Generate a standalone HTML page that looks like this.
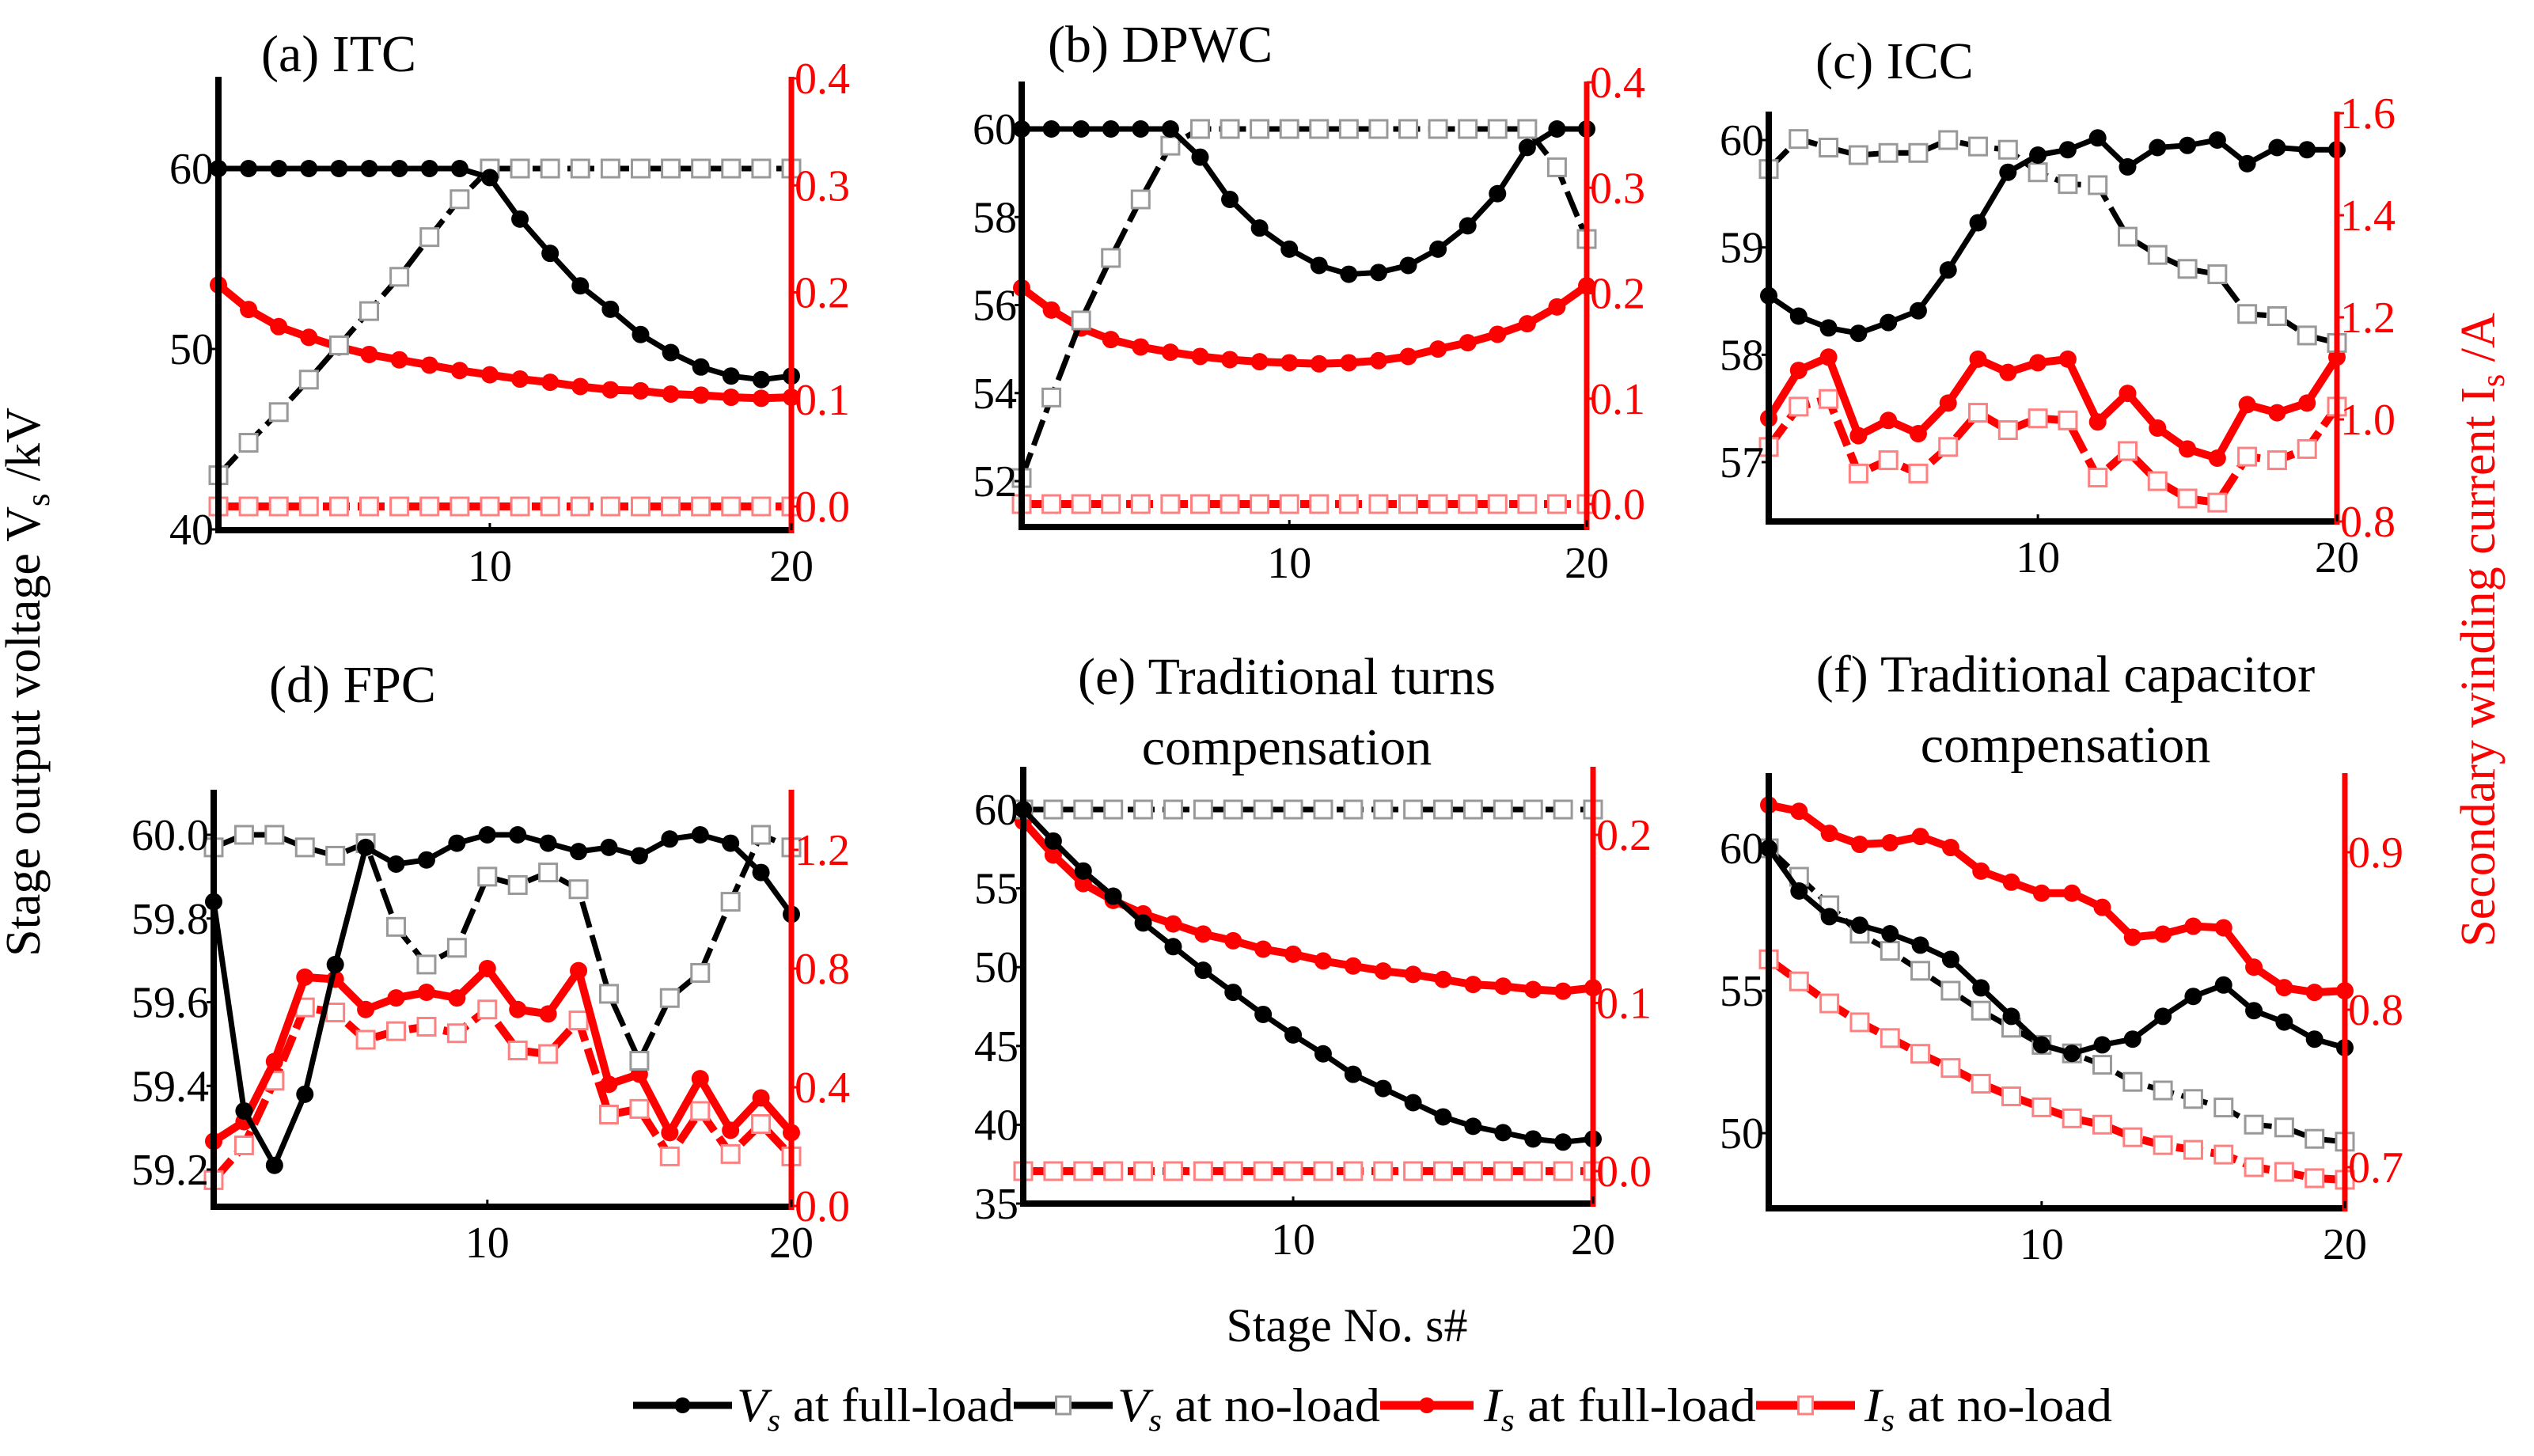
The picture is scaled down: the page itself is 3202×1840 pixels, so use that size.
<!DOCTYPE html>
<html><head><meta charset="utf-8">
<style>
html,body{margin:0;padding:0;background:#fff;}
svg, svg text{font-family:"Liberation Serif","DejaVu Serif",serif;}
</style></head>
<body>
<svg id="fig" width="3202" height="1835" viewBox="0 0 3202 1835" xmlns="http://www.w3.org/2000/svg" font-family="Liberation Serif, DejaVu Serif, serif">
<text x="50" y="862" font-size="62" text-anchor="middle" transform="rotate(-90 50 862)">Stage output voltage V<tspan font-size="42" dy="12">s</tspan><tspan dy="-12"> /kV</tspan></text>
<text x="3152" y="796" font-size="62" fill="#ff0000" text-anchor="middle" transform="rotate(-90 3152 796)">Secondary winding current I<tspan font-size="42" dy="12">s</tspan><tspan dy="-12"> /A</tspan></text>
<text x="1702" y="1695" font-size="60" text-anchor="middle">Stage No. s#</text>
<g id="legend"></g>
</svg>
<script>
// ---- data ----
const stages = [1,2,3,4,5,6,7,8,9,10,11,12,13,14,15,16,17,18,19,20];
const xTicks = [10,20];
const panelTitles = [["(a) ITC"],["(b) DPWC"],["(c) ICC"],["(d) FPC"],["(e) Traditional turns","compensation"],["(f) Traditional capacitor","compensation"]];
const leftTicksA = [40,50,60];
const leftTicksB = [52,54,56,58,60];
const leftTicksC = [57,58,59,60];
const leftTicksD = [59.2,59.4,59.6,59.8,60.0];
const leftTicksE = [35,40,45,50,55,60];
const leftTicksF = [50,55,60];
const rightTicksA = [0.0,0.1,0.2,0.3,0.4];
const rightTicksB = [0.0,0.1,0.2,0.3,0.4];
const rightTicksC = [0.8,1.0,1.2,1.4,1.6];
const rightTicksD = [0.0,0.4,0.8,1.2];
const rightTicksE = [0.0,0.1,0.2];
const rightTicksF = [0.7,0.8,0.9];

const vFullA = [60,60,60,60,60,60,60,60,60,59.5,57.2,55.3,53.5,52.2,50.8,49.8,49,48.5,48.3,48.5];
const vNoA   = [43.0,44.8,46.5,48.3,50.2,52.1,54.0,56.2,58.3,60,60,60,60,60,60,60,60,60,60,60];
const iFullA = [0.207,0.184,0.168,0.158,0.149,0.142,0.137,0.132,0.127,0.123,0.119,0.116,0.112,0.109,0.108,0.105,0.104,0.102,0.101,0.102];
const iNoA   = [0,0,0,0,0,0,0,0,0,0,0,0,0,0,0,0,0,0,0,0];

const vFullB = [60,60,60,60,60,60,59.36,58.4,57.75,57.27,56.9,56.7,56.74,56.9,57.27,57.8,58.53,59.58,60,60];
const vNoB   = [52.07,53.9,55.65,57.07,58.4,59.62,60,60,60,60,60,60,60,60,60,60,60,60,59.13,57.5];
const iFullB = [0.205,0.184,0.167,0.156,0.149,0.144,0.14,0.137,0.135,0.134,0.133,0.134,0.136,0.14,0.147,0.153,0.161,0.171,0.187,0.207];
const iNoB   = [0,0,0,0,0,0,0,0,0,0,0,0,0,0,0,0,0,0,0,0];

const vFullC = [58.55,58.36,58.25,58.2,58.3,58.41,58.79,59.23,59.7,59.86,59.91,60.02,59.75,59.93,59.95,60,59.78,59.93,59.91,59.91];
const vNoC   = [59.73,60.01,59.93,59.86,59.88,59.88,60,59.94,59.91,59.7,59.59,59.58,59.1,58.93,58.8,58.75,58.38,58.36,58.18,58.11];
const iFullC = [1.002,1.096,1.122,0.968,0.998,0.972,1.032,1.118,1.092,1.111,1.118,0.995,1.051,0.983,0.942,0.924,1.029,1.013,1.032,1.122];
const iNoC   = [0.946,1.025,1.04,0.894,0.92,0.894,0.946,1.013,0.979,1.002,0.998,0.886,0.938,0.879,0.845,0.837,0.927,0.92,0.942,1.025];

const vFullD = [59.84,59.34,59.21,59.38,59.69,59.97,59.93,59.94,59.98,60.0,60.0,59.98,59.96,59.97,59.95,59.99,60.0,59.98,59.91,59.81];
const vNoD   = [59.97,60.0,60.0,59.97,59.95,59.98,59.78,59.69,59.73,59.9,59.88,59.91,59.87,59.62,59.46,59.61,59.67,59.84,60.0,59.97];
const iFullD = [0.218,0.284,0.487,0.771,0.764,0.662,0.701,0.72,0.701,0.8,0.662,0.647,0.793,0.41,0.444,0.247,0.429,0.255,0.364,0.247];
const iNoD   = [0.087,0.204,0.422,0.669,0.652,0.56,0.589,0.604,0.582,0.662,0.524,0.512,0.625,0.308,0.327,0.167,0.32,0.175,0.276,0.167];

const vFullE = [60,58,56.1,54.5,52.8,51.3,49.8,48.4,47,45.7,44.5,43.2,42.3,41.4,40.5,39.9,39.5,39.1,38.9,39.1];
const vNoE   = [60,60,60,60,60,60,60,60,60,60,60,60,60,60,60,60,60,60,60,60];
const iFullE = [0.208,0.188,0.171,0.161,0.153,0.147,0.141,0.137,0.132,0.129,0.125,0.122,0.119,0.117,0.114,0.111,0.110,0.108,0.107,0.109];
const iNoE   = [0,0,0,0,0,0,0,0,0,0,0,0,0,0,0,0,0,0,0,0];

const vFullF = [60,58.5,57.6,57.3,57.0,56.6,56.1,55.1,54.1,53.1,52.8,53.1,53.3,54.1,54.8,55.2,54.3,53.9,53.3,53.0];
const vNoF   = [60,59.0,58.0,57.0,56.4,55.7,55.0,54.3,53.7,53.1,52.8,52.4,51.8,51.5,51.2,50.9,50.3,50.2,49.8,49.7];
const iFullF = [0.930,0.926,0.912,0.905,0.906,0.910,0.903,0.888,0.881,0.874,0.874,0.865,0.846,0.848,0.853,0.852,0.827,0.814,0.811,0.812];
const iNoF   = [0.832,0.818,0.804,0.792,0.782,0.772,0.763,0.753,0.745,0.738,0.731,0.727,0.719,0.714,0.711,0.708,0.700,0.697,0.693,0.692];

// ---- layout (pixels) ----
const layout = [
 {xL:276,xR:1000,top:97,bot:670,l:[40,669,60,213],r:[0,640,0.4,99],ld:0,rd:1,tx:330,ty:[90]},
 {xL:1291,xR:2005,top:103,bot:666,l:[52,608,60,163],r:[0,637,0.4,104],ld:0,rd:1,tx:1324,ty:[78]},
 {xL:2235,xR:2953,top:141,bot:659,l:[57,584,60,177],r:[0.8,659,1.6,143],ld:0,rd:1,tx:2294,ty:[99]},
 {xL:270,xR:1000,top:998,bot:1525,l:[59.2,1478,60,1055],r:[0,1524,1.2,1074],ld:1,rd:1,tx:340,ty:[887]},
 {xL:1293,xR:2013,top:969,bot:1521,l:[35,1521,60,1023],r:[0,1480,0.2,1055],ld:0,rd:1,tx:1626,ty:[877,966],center:true},
 {xL:2235,xR:2963,top:977,bot:1527,l:[50,1432,60,1072],r:[0.7,1475,0.9,1077],ld:0,rd:1,tx:2610,ty:[874,963],center:true}
];
const leftTicks=[leftTicksA,leftTicksB,leftTicksC,leftTicksD,leftTicksE,leftTicksF];
const rightTicks=[rightTicksA,rightTicksB,rightTicksC,rightTicksD,rightTicksE,rightTicksF];
const series=[[vFullA,vNoA,iFullA,iNoA],[vFullB,vNoB,iFullB,iNoB],[vFullC,vNoC,iFullC,iNoC],[vFullD,vNoD,iFullD,iNoD],[vFullE,vNoE,iFullE,iNoE],[vFullF,vNoF,iFullF,iNoF]];
const letters=['a','b','c','d','e','f'];

const NS="http://www.w3.org/2000/svg";
const svg=document.getElementById('fig');
const FF='Liberation Serif, DejaVu Serif, serif';
function mk(tag,attrs,parent){const e=document.createElementNS(NS,tag);for(const k in attrs)e.setAttribute(k,attrs[k]);if(tag==='text')e.setAttribute('font-family',FF);(parent||svg).appendChild(e);return e;}

layout.forEach((L,p)=>{
  const g=mk('g',{});
  
  
  const xs=s=>L.xL+(s-1)*(L.xR-L.xL)/19;
  const yl=v=>L.l[1]+(v-L.l[0])*(L.l[3]-L.l[1])/(L.l[2]-L.l[0]);
  const yr=v=>L.r[1]+(v-L.r[0])*(L.r[3]-L.r[1])/(L.r[2]-L.r[0]);
  panelTitles[p].forEach((t,i)=>{
    const te=mk('text',{x:L.tx,y:L.ty[i],'font-size':66,'text-anchor':L.center?'middle':'start'},g);
    te.textContent=t;
    
    
  });
  const [vF,vN,iF,iN]=series[p];
  const line=(arr,yf,col,w,dash,name)=>{
    const pl=mk('polyline',{points:arr.map((v,i)=>xs(stages[i])+','+yf(v)).join(' '),fill:'none',stroke:col,'stroke-width':w,'stroke-linejoin':'round'},g);
    if(dash)pl.setAttribute('stroke-dasharray',dash);
    
    
  };
  const circles=(arr,yf,col,name)=>arr.forEach((v,i)=>{
    const c=mk('circle',{cx:xs(stages[i]),cy:yf(v),r:11,fill:col},g);
    
    
  });
  const squares=(arr,yf,col,name)=>arr.forEach((v,i)=>{
    const r=mk('rect',{x:xs(stages[i])-11,y:yf(v)-11,width:22,height:22,fill:'#fff',stroke:col,'stroke-width':3},g);
    
    
  });
  line(iN,yr,'#ff0000',10,'34 10','is-no-load-line'); squares(iN,yr,'#ff8080','is-no-load-marker');
  line(iF,yr,'#ff0000',10,null,'is-full-load-line'); circles(iF,yr,'#ff0000','is-full-load-marker');
  line(vN,yl,'#000',7,'34 10','vs-no-load-line'); squares(vN,yl,'#999','vs-no-load-marker');
  line(vF,yl,'#000',7,null,'vs-full-load-line'); circles(vF,yl,'#000','vs-full-load-marker');
  const la=mk('line',{x1:L.xL,y1:L.top,x2:L.xL,y2:L.bot+4,stroke:'#000','stroke-width':8},g);
   
  const xa=mk('line',{x1:L.xL-4,y1:L.bot,x2:L.xR,y2:L.bot,stroke:'#000','stroke-width':8},g);
   
  const ra=mk('line',{x1:L.xR,y1:L.top,x2:L.xR,y2:L.bot+4,stroke:'#ff0000','stroke-width':7},g);
   
  leftTicks[p].forEach(v=>{
    mk('line',{x1:L.xL-9,y1:yl(v),x2:L.xL,y2:yl(v),stroke:'#000','stroke-width':3},g);
    const t=mk('text',{x:L.xL-6,y:yl(v)+19,'font-size':56,'text-anchor':'end'},g);
    t.textContent=v.toFixed(L.ld);
    
    
  });
  rightTicks[p].forEach(v=>{
    mk('line',{x1:L.xR,y1:yr(v),x2:L.xR+9,y2:yr(v),stroke:'#ff0000','stroke-width':3},g);
    const t=mk('text',{x:L.xR+4,y:yr(v)+19,'font-size':56,fill:'#ff0000'},g);
    t.textContent=v.toFixed(L.rd);
    
    
  });
  xTicks.forEach(s=>{
    mk('line',{x1:xs(s),y1:L.bot-9,x2:xs(s),y2:L.bot,stroke:'#000','stroke-width':3},g);
    const t=mk('text',{x:xs(s),y:L.bot+64,'font-size':56,'text-anchor':'middle'},g);
    t.textContent=String(s);
    
    
  });
});

// legend
const lg=document.getElementById('legend');
const legendItems=[
 {x1:800,x2:925,col:'#000',w:9,mk:'c',mcol:'#000',tx:931,sym:'V',txt:' at full-load',tw:350},
 {x1:1281,x2:1406,col:'#000',w:9,mk:'s',mcol:'#999',tx:1412,sym:'V',txt:' at no-load',tw:332},
 {x1:1744,x2:1862,col:'#ff0000',w:11,mk:'c',mcol:'#ff0000',tx:1875,sym:'I',txt:' at full-load',tw:344},
 {x1:2219,x2:2344,col:'#ff0000',w:11,mk:'s',mcol:'#ff8080',tx:2356,sym:'I',txt:' at no-load',tw:313}
];
const ly=1776;
legendItems.forEach(it=>{
  const g=mk('g',{},lg);
  
  
  mk('line',{x1:it.x1,y1:ly,x2:it.x2,y2:ly,stroke:it.col,'stroke-width':it.w},g);
  const cx=(it.x1+it.x2)/2;
  if(it.mk==='c') mk('circle',{cx:cx,cy:ly,r:10,fill:it.mcol},g);
  else mk('rect',{x:cx-9,y:ly-11,width:18,height:22,fill:'#fff',stroke:it.mcol,'stroke-width':3},g);
  const t=mk('text',{x:it.tx,y:ly+20,'font-size':60,textLength:it.tw,lengthAdjust:'spacingAndGlyphs'},g);
  t.innerHTML='<tspan font-style="italic">'+it.sym+'</tspan><tspan font-style="italic" font-size="40" dy="12">s</tspan><tspan dy="-12">'+it.txt+'</tspan>';
});
</script>
</body></html>
